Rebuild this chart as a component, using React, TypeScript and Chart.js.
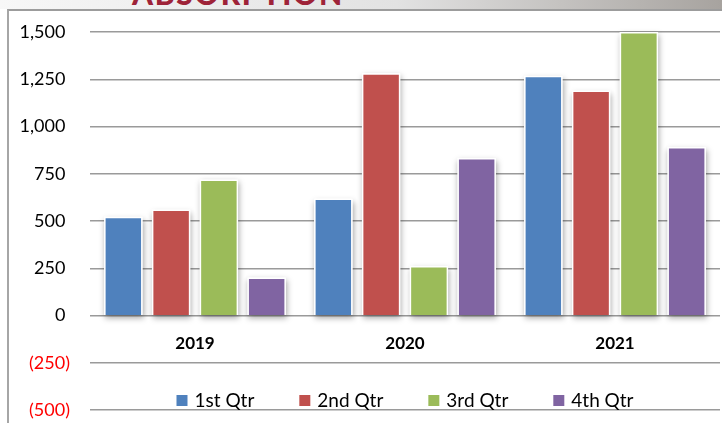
import React, { useEffect, useRef } from "react";
import { Chart, registerables } from "chart.js";

Chart.register(...registerables);

const categories = ["2019", "2020", "2021"];
const seriesLabels = ["1st Qtr", "2nd Qtr", "3rd Qtr", "4th Qtr"];
const q1Values = [523, 619, 1268];
const q2Values = [561, 1282, 1190];
const q3Values = [720, 263, 1500];
const q4Values = [202, 834, 892];
const seriesColors = ["#4F81BD", "#C0504D", "#9BBB59", "#8064A2"];
const yMin = -500;
const yMax = 1500;
const yStep = 250;

const FONT = "Lato, Carlito, Calibri, 'Liberation Sans', sans-serif";

const fmt = (n: number) => Math.round(n).toLocaleString("en-US");

const shadowPlugin = {
  id: "barShadow",
  beforeDatasetsDraw(chart: any) {
    const ctx = chart.ctx;
    chart.data.datasets.forEach((_: any, i: number) => {
      const meta = chart.getDatasetMeta(i);
      meta.data.forEach((el: any) => {
        const { x, y, base, width } = el.getProps(["x", "y", "base", "width"], true);
        const top = Math.min(y, base);
        const h = Math.abs(base - y);
        ctx.save();
        ctx.shadowColor = "rgba(0,0,0,0.35)";
        ctx.shadowBlur = 6;
        ctx.shadowOffsetX = 1;
        ctx.shadowOffsetY = 3;
        ctx.fillStyle = "#ffffff";
        ctx.fillRect(x - width / 2, top, width, h);
        ctx.restore();
      });
    });
  },
};

const legendPlugin = {
  id: "customLegend",
  afterDraw(chart: any) {
    const ctx = chart.ctx;
    const area = chart.chartArea;
    ctx.save();
    ctx.font = `19px ${FONT}`;
    ctx.textBaseline = "alphabetic";
    ctx.textAlign = "left";
    const box = 11;
    const gapBoxText = 7;
    const gapItems = 45;
    const items = chart.data.datasets.map((ds: any) => ({
      label: ds.label,
      color: ds.backgroundColor,
      w: ctx.measureText(ds.label).width,
    }));
    const total =
      items.reduce((s: number, it: any) => s + box + gapBoxText + it.w, 0) +
      gapItems * (items.length - 1);
    let x = (area.left + area.right) / 2 - total / 2;
    const baseline = 406.5;
    items.forEach((it: any) => {
      ctx.fillStyle = it.color;
      ctx.fillRect(x, 395, box, box);
      x += box + gapBoxText;
      ctx.fillStyle = "#000000";
      ctx.fillText(it.label, x, baseline);
      x += it.w + gapItems;
    });
    ctx.restore();
  },
};

export default function App() {
  const canvasRef = useRef<HTMLCanvasElement | null>(null);

  useEffect(() => {
    document.body.style.margin = "0";
    const canvas = canvasRef.current;
    if (!canvas) return;
    const seriesValues = [q1Values, q2Values, q3Values, q4Values];
    const chart = new Chart(canvas, {
      type: "bar",
      data: {
        labels: categories,
        datasets: seriesLabels.map((label, i) => ({
          label,
          data: seriesValues[i],
          backgroundColor: seriesColors[i],
          borderColor: "#ffffff",
          borderWidth: 1.5,
          categoryPercentage: 0.91,
          barPercentage: 0.805,
        })),
      },
      options: {
        responsive: false,
        animation: false,
        layout: { padding: { top: 32, bottom: 15, left: 0, right: 2 } },
        plugins: {
          legend: { display: false },
          title: { display: false },
          tooltip: { enabled: false },
        },
        scales: {
          x: {
            type: "category",
            position: { y: 0 } as any,
            offset: true,
            grid: { display: false, drawTicks: false },
            border: { display: false },
            afterFit: (scale: any) => {
              scale.height = 0;
            },
            ticks: {
              color: "#000000",
              font: { family: FONT, size: 17, weight: "bold" },
              padding: 18,
            },
          },
          y: {
            min: yMin,
            max: yMax,
            grid: {
              color: "#9a9a9a",
              lineWidth: 1.5,
              drawTicks: false,
            },
            border: { display: false },
            afterFit: (scale: any) => {
              scale.width = 90;
            },
            ticks: {
              stepSize: yStep,
              padding: 20,
              font: { family: FONT, size: 18 },
              color: (c: any) => (c.tick && c.tick.value < 0 ? "#FF0000" : "#000000"),
              callback: (v: any) => {
                const n = Number(v);
                return n < 0 ? `(${fmt(-n)})` : `${fmt(n)} `;
              },
            },
          },
        },
      },
      plugins: [shadowPlugin, legendPlugin],
    });
    return () => chart.destroy();
  }, []);

  return (
    <div
      style={{
        position: "relative",
        width: 722,
        height: 423,
        overflow: "hidden",
        background: "#ffffff",
      }}
    >
      <div
        style={{
          position: "absolute",
          left: 0,
          top: 0,
          width: 722,
          height: 9,
          overflow: "hidden",
          background: "linear-gradient(to right, #f7f7f7 0%, #e2e2e2 55%, #a7a39f 100%)",
        }}
      >
        <div
          style={{
            position: "absolute",
            left: 132,
            top: -22,
            fontFamily: FONT,
            fontWeight: 900,
            fontSize: 30,
            lineHeight: "30px",
            letterSpacing: 1.7,
            color: "#9E2338",
            whiteSpace: "nowrap",
          }}
        >
          ABSORPTION
        </div>
      </div>
      <div
        style={{
          position: "absolute",
          left: 7,
          top: 9,
          width: 800,
          height: 500,
          borderLeft: "2px solid #a6a6a6",
          borderTop: "2px solid #9c9c9c",
        }}
      />
      <canvas
        ref={canvasRef}
        width={722}
        height={441}
        style={{ position: "absolute", left: 0, top: 0 }}
      />
    </div>
  );
}
